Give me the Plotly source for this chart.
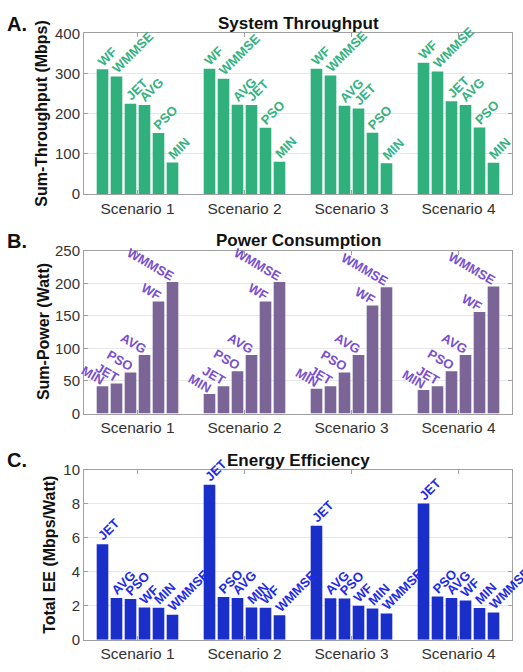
import plotly.graph_objects as go

scenarios = ["Scenario 1", "Scenario 2", "Scenario 3", "Scenario 4"]
methods = ["WF", "WMMSE", "JET", "AVG", "PSO", "MIN"]

# Panel A: Sum-Throughput (Mbps)
thr_WF = [311, 312, 312, 327]
thr_WMMSE = [293, 287, 295, 305]
thr_JET = [225, 222, 213, 231]
thr_AVG = [222, 222.5, 220, 222]
thr_PSO = [152, 165, 153, 166]
thr_MIN = [79, 81, 77, 78]

# Panel B: Sum-Power (Watt)
pow_WF = [172, 172, 166, 156]
pow_WMMSE = [202, 202, 194, 195]
pow_JET = [46, 42, 42, 42]
pow_AVG = [90, 90, 90, 90]
pow_PSO = [63, 65, 63, 65]
pow_MIN = [42, 30, 38, 36]

# Panel C: Total EE (Mbps/Watt)
ee_WF = [1.89, 1.88, 2.00, 2.31]
ee_WMMSE = [1.46, 1.44, 1.54, 1.60]
ee_JET = [5.63, 9.13, 6.71, 8.02]
ee_AVG = [2.46, 2.46, 2.44, 2.46]
ee_PSO = [2.40, 2.52, 2.42, 2.54]
ee_MIN = [1.88, 1.90, 1.83, 1.87]

W, H = 523, 672
XL, XR = 84, 512
BARGAP = 0.215
GROUPGAP = 0.17
FONT = "Liberation Sans, Arial, sans-serif"

panels = [
    dict(vals=dict(WF=thr_WF, WMMSE=thr_WMMSE, JET=thr_JET, AVG=thr_AVG, PSO=thr_PSO, MIN=thr_MIN),
         desc=True, top=25, bot=190, rng=[0, 400], dtick=100, title="System Throughput",
         ytitle="Sum-Throughput (Mbps)", ytx=42, letter="A.", bar="#30B07D", lab="#35B282",
         angle=-45),
    dict(vals=dict(WF=pow_WF, WMMSE=pow_WMMSE, JET=pow_JET, AVG=pow_AVG, PSO=pow_PSO, MIN=pow_MIN),
         desc=False, top=248, bot=415, rng=[0, 250], dtick=50, title="Power Consumption",
         ytitle="Sum-Power (Watt)", ytx=43, letter="B.", bar="#7B6597", lab="#7A4FCF",
         angle=30),
    dict(vals=dict(WF=ee_WF, WMMSE=ee_WMMSE, JET=ee_JET, AVG=ee_AVG, PSO=ee_PSO, MIN=ee_MIN),
         desc=True, top=473, bot=647, rng=[0, 10], dtick=2, title="Energy Efficiency",
         ytitle="Total EE (Mbps/Watt)", ytx=50, letter="C.", bar="#1A2FC9", lab="#1F2CE6",
         angle=-45),
]

fig = go.Figure()
annotations = []
n = len(methods)
slot = (1 - BARGAP) / n
xpos = [i + 1 for i in range(len(scenarios))]

for p_i, p in enumerate(panels):
    sfx = "" if p_i == 0 else str(p_i + 1)
    xa, ya = "x" + sfx, "y" + sfx
    ranked = []
    for s in range(len(scenarios)):
        order = sorted(methods, key=lambda m: p["vals"][m][s], reverse=p["desc"])
        ranked.append(order)
    for k in range(n):
        ys = [p["vals"][ranked[s][k]][s] for s in range(len(scenarios))]
        fig.add_trace(go.Bar(x=xpos, y=ys, xaxis=xa, yaxis=ya, marker_color=p["bar"],
                             marker_line_width=0, offsetgroup=str(k), showlegend=False,
                             hoverinfo="skip"))
        for s in range(len(scenarios)):
            cx = xpos[s] - (1 - BARGAP) / 2 + slot * (k + 0.5)
            if p["angle"] < 0:
                annotations.append(dict(x=cx, y=ys[s], xref=xa, yref=ya, text="<b>%s</b>" % ranked[s][k],
                                        textangle=p["angle"], xanchor="left", yanchor="bottom",
                                        xshift=-9, yshift=-1, showarrow=False, borderpad=0,
                                        font=dict(family=FONT, size=13, color=p["lab"])))
            else:
                annotations.append(dict(x=cx, y=ys[s], xref=xa, yref=ya, text="<b>%s</b>" % ranked[s][k],
                                        textangle=p["angle"], xanchor="right", yanchor="bottom",
                                        xshift=6, yshift=-3, showarrow=False, borderpad=0,
                                        font=dict(family=FONT, size=13, color=p["lab"])))
    dom_y = [1 - p["bot"] / H, 1 - p["top"] / H]
    axis_common = dict(showline=True, linecolor="#a0a0a0", linewidth=1, mirror="ticks",
                       ticks="inside", ticklen=4, tickcolor="#a0a0a0")
    fig.update_layout(**{
        "xaxis" + sfx: dict(domain=[XL / W, XR / W], range=[0.5, 4.5], tickvals=xpos,
                            ticktext=scenarios, showgrid=False, zeroline=False, anchor=ya,
                            tickfont=dict(family=FONT, size=15.5, color="#333333"), **axis_common),
        "yaxis" + sfx: dict(domain=dom_y, range=p["rng"], dtick=p["dtick"], anchor=xa,
                            showgrid=True, gridcolor="#e8e8e8", zeroline=False,
                            tickfont=dict(family=FONT, size=15, color="#333333"),
                            **axis_common),
    })
    annotations.append(dict(x=p["ytx"] / W, y=1 - (p["top"] + p["bot"]) / 2 / H, xref="paper", yref="paper",
                            text="<b>%s</b>" % p["ytitle"], showarrow=False, textangle=-90,
                            xanchor="center", yanchor="middle",
                            font=dict(family=FONT, size=16, color="#111111")))
    annotations.append(dict(x=(XL + XR) / 2 / W, y=1 - (p["top"] - 10) / H, xref="paper", yref="paper",
                            text="<b>%s</b>" % p["title"], showarrow=False, xanchor="center",
                            yanchor="middle", font=dict(family=FONT, size=17, color="#111111")))
    annotations.append(dict(x=5 / W, y=1 - (p["top"] - 10) / H, xref="paper", yref="paper",
                            text="<b>%s</b>" % p["letter"], showarrow=False, xanchor="left",
                            yanchor="middle", font=dict(family=FONT, size=20, color="#111111")))

fig.update_layout(width=W, height=H, margin=dict(l=0, r=0, t=0, b=0),
                  barmode="group", bargap=BARGAP, bargroupgap=GROUPGAP,
                  plot_bgcolor="white", paper_bgcolor="white",
                  annotations=annotations, showlegend=False)

fig.write_html("out.html", config={"displayModeBar": False})
